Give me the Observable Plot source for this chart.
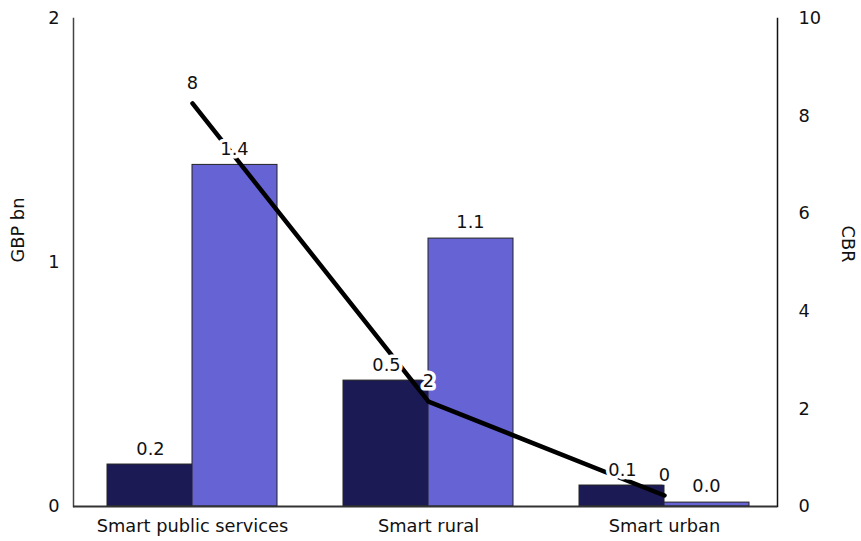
<!DOCTYPE html>
<html>
<head>
<meta charset="utf-8">
<script src="https://cdn.jsdelivr.net/npm/d3@7"></script>
<script src="https://cdn.jsdelivr.net/npm/@observablehq/plot@0.6"></script>
<style>
  html, body { margin: 0; padding: 0; background: #fff; }
</style>
</head>
<body>
<div id="chart"></div>
<script>
const categories = ["Smart public services", "Smart rural", "Smart urban"];
const costs = [0.172, 0.516, 0.086];      // GBP bn (dark bars)
const benefits = [1.40, 1.098, 0.016];    // GBP bn (light bars)
const cbr = [8.26, 2.15, 0.225];          // cost-benefit ratio (line, right axis)
const leftTicks = [0, 1, 2];
const rightTicks = [0, 2, 4, 6, 8, 10];

const CBR_MAX = 10, GBP_MAX = 2;
const toLeft = v => v * GBP_MAX / CBR_MAX;

const rows = categories.map((c, i) => ({category: c, cost: costs[i], benefit: benefits[i], cbr: cbr[i]}));
const f1 = d3.format(".1f"), f0 = d3.format(".0f");

const font = "'DejaVu Sans', sans-serif";
const fs = 17.8;

const chart = Plot.plot({
  width: 861,
  height: 541,
  marginTop: 18,
  marginBottom: 35,
  marginLeft: 73,
  marginRight: 84,
  style: {fontFamily: font, fontSize: fs + "px", color: "#111", background: "#fff"},
  x: {domain: categories, paddingInner: 0.28, paddingOuter: 0.13, align: 0.55, axis: null},
  y: {domain: [0, GBP_MAX], axis: null},
  marks: [
    Plot.barY(rows, {x: "category", y: "cost", fill: "#1c1a55", stroke: "#222", strokeWidth: 1, insetRight: 85}),
    Plot.barY(rows, {x: "category", y: "benefit", fill: "#6663d5", stroke: "#222", strokeWidth: 1, insetLeft: 85}),
    Plot.frame({anchor: "left", stroke: "#444", strokeWidth: 1.5}),
    Plot.frame({anchor: "right", stroke: "#111", strokeWidth: 1.5}),
    Plot.ruleY([0], {stroke: "#333", strokeWidth: 2}),
    Plot.axisX({tickSize: 0, tickPadding: 13, fontSize: fs, label: null}),
    Plot.axisY({ticks: leftTicks, tickSize: 0, tickPadding: 14, tickFormat: d3.format("d"), fontSize: fs, label: null}),
    Plot.axisY({anchor: "right", ticks: rightTicks.map(toLeft), tickSize: 0, tickPadding: 21, textAnchor: "start",
      tickFormat: d => String(Math.round(d * CBR_MAX / GBP_MAX)), fontSize: fs, label: null}),
    Plot.text(["GBP bn"], {frameAnchor: "left", rotate: -90, dx: -55, fontSize: fs, fill: "#111"}),
    Plot.text(["CBR"], {frameAnchor: "right", rotate: 90, dx: 70, fontSize: fs, fill: "#111"}),
    Plot.line(rows, {x: "category", y: d => toLeft(d.cbr), stroke: "#000", strokeWidth: 4.5}),
    Plot.text(rows, {x: "category", y: "cost", text: d => f1(d.cost), dx: -42, dy: -15, fontSize: fs, fill: "#111", stroke: "#fff", strokeWidth: 7}),
    Plot.text(rows, {x: "category", y: "benefit", text: d => f1(d.benefit), dx: 42, dy: -16, fontSize: fs, fill: "#111", stroke: "#fff", strokeWidth: 7}),
    Plot.text(rows, {x: "category", y: d => toLeft(d.cbr), text: d => f0(d.cbr), dy: -20, fontSize: fs, fill: "#111", stroke: "#fff", strokeWidth: 7})
  ]
});
document.getElementById("chart").appendChild(chart);
</script>
</body>
</html>
